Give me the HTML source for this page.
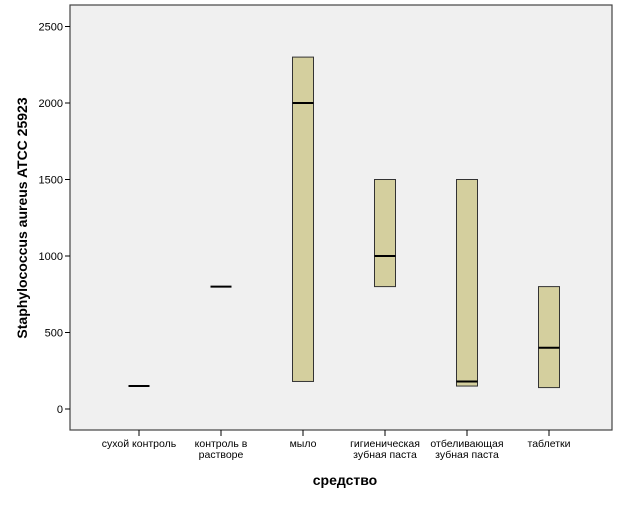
<!DOCTYPE html>
<html><head><meta charset="utf-8"><style>
body{margin:0;background:#fff;font-family:"Liberation Sans",sans-serif}
</style></head><body>
<svg width="626" height="501" xmlns="http://www.w3.org/2000/svg">
<rect x="70" y="5" width="542" height="425" fill="#f0f0f0" stroke="#444" stroke-width="1.2"/>
<g id="yaxis"></g><g id="xaxis"></g><g id="boxes"></g>
<text x="345" y="485" text-anchor="middle" font-size="14" font-weight="bold">средство</text>
<text transform="translate(27,218) rotate(-90)" text-anchor="middle" font-size="14" font-weight="bold">Staphylococcus aureus ATCC 25923</text>
</svg>
<script>
const categories=[["сухой контроль"],["контроль в","растворе"],["мыло"],["гигиеническая","зубная паста"],["отбеливающая","зубная паста"],["таблетки"]];
const lows=[150,800,180,800,150,140];
const medians=[150,800,2000,1000,180,400];
const highs=[150,800,2300,1500,1500,800];
const yTicks=[0,500,1000,1500,2000,2500];
const NS="http://www.w3.org/2000/svg";
const y=v=>409-v*0.153;
const x=i=>139+i*82;
function mk(tag,attrs,parent){const e=document.createElementNS(NS,tag);for(const k in attrs)e.setAttribute(k,attrs[k]);parent.appendChild(e);return e;}
const ya=document.getElementById('yaxis'),xa=document.getElementById('xaxis'),bx=document.getElementById('boxes');
yTicks.forEach(t=>{
 const l=mk('line',{x1:65,x2:70,y1:y(t),y2:y(t),stroke:'#000'},ya);
 
 
 const tx=mk('text',{x:63,y:y(t)+4,'text-anchor':'end','font-size':11},ya);
 tx.textContent=t;
 
 
});
categories.forEach((c,i)=>{
 const l=mk('line',{x1:x(i),x2:x(i),y1:430,y2:436,stroke:'#000'},xa);
 
 
 c.forEach((s,j)=>{
  const tx=mk('text',{x:x(i),y:447+j*11,'text-anchor':'middle','font-size':10.5},xa);
  tx.textContent=s;
  
  
 });
 const lo=y(lows[i]),hi=y(highs[i]),md=y(medians[i]);
 if(hi<lo-0.5){
  const r=mk('rect',{x:x(i)-10.5,y:hi,width:21,height:lo-hi,fill:'#d4cf9e',stroke:'#333','stroke-width':1},bx);
  
  
 }
 const m=mk('line',{x1:x(i)-10.5,x2:x(i)+10.5,y1:md,y2:md,stroke:'#000','stroke-width':2},bx);
 
 
});
</script>
</body></html>
